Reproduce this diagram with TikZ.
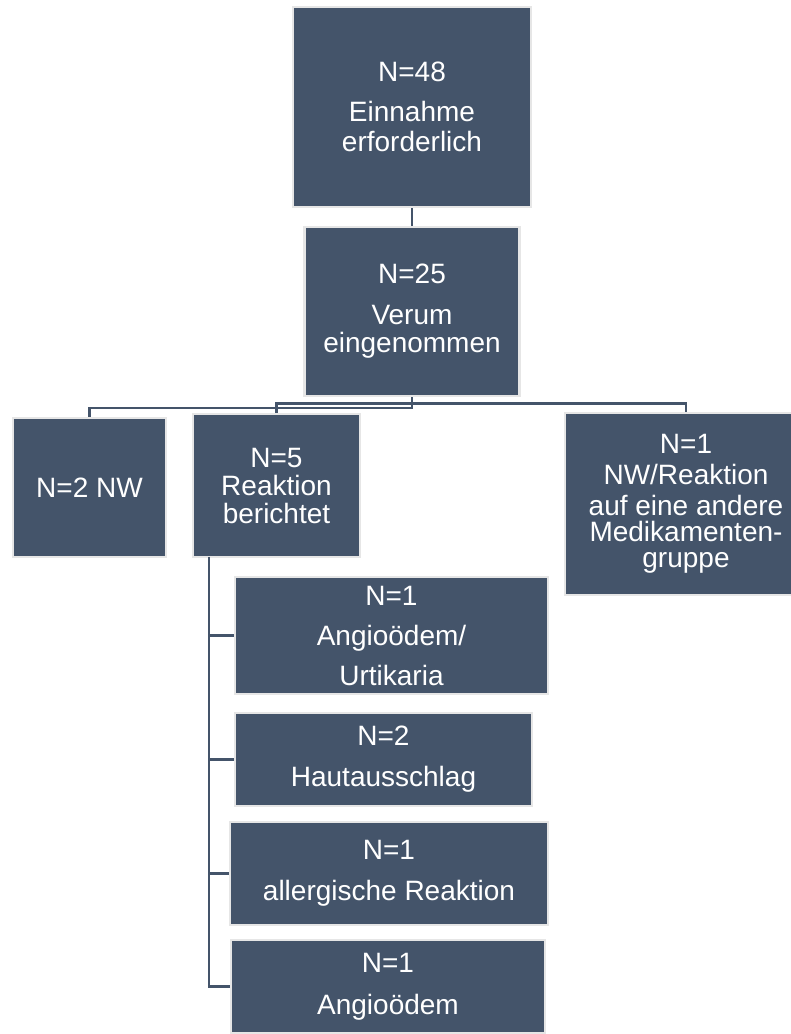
\documentclass[tikz,border=0pt]{standalone}
\usepackage{fontspec}
\setmainfont{Liberation Sans}
\definecolor{boxfill}{HTML}{44546A}
\definecolor{boxline}{HTML}{E6E6E6}
\tikzset{
  box/.style={rectangle, fill=boxfill, draw=boxline, line width=2.2pt,
    text=white, align=center, inner sep=0pt, font=\fontsize{28}{30}\selectfont},
  conn/.style={draw=boxfill, line width=2.6pt},
}
\begin{document}
\begin{tikzpicture}[x=1pt,y=-1pt]
\useasboundingbox (0,0) rectangle (791,1034);
\clip (0,0) rectangle (791,1034);
\fill[white] (0,0) rectangle (791,1034);

\node[box, minimum width=238, minimum height=200] (top) at (412,107)
  {N=48\\[10pt]Einnahme\\erforderlich};
\node[box, minimum width=215, minimum height=169, font=\fontsize{28}{28}\selectfont] (b2) at (412,311.5)
  {N=25\\[13pt]Verum\\eingenommen};
\node[box, minimum width=153, minimum height=139] (left) at (89.5,487.5) {N=2 NW};
\node[box, minimum width=167, minimum height=143, font=\fontsize{28}{28}\selectfont] (mid) at (276.5,485.5)
  {N=5\\Reaktion\\berichtet};
\node[box, minimum width=242, minimum height=182, font=\fontsize{28}{26}\selectfont] (right) at (686,504)
  {N=1\\[5pt]NW/Reaktion\\[5pt]auf eine andere\\Medikamenten-\\gruppe};
\node[box, minimum width=313, minimum height=117, font=\fontsize{28}{40}\selectfont] (sA) at (391.5,635.5)
  {N=1\\Angioödem/\\Urtikaria};
\node[box, minimum width=297, minimum height=93, font=\fontsize{28}{41}\selectfont] (sB) at (383.5,759.5)
  {N=2\\Hautausschlag};
\node[box, minimum width=318, minimum height=103, font=\fontsize{28}{41}\selectfont] (sC) at (389,873.5)
  {N=1\\allergische Reaktion};
\node[box, minimum width=314, minimum height=93, font=\fontsize{28}{42}\selectfont] (sD) at (388,986.5)
  {N=1\\Angioödem};

% connectors
\coordinate (tr) at (209,557);
\draw[conn] (top.south) -- (b2.north);
\draw[conn] (b2.south) -- (412,408) -| (left.north);
\draw[conn] (mid.north) -- ++(0,-9.5) -| (right.north);
\draw[conn] (tr) |- (sD.west);
\draw[conn] (tr |- sA.west) -- (sA.west);
\draw[conn] (tr |- sB.west) -- (sB.west);
\draw[conn] (tr |- sC.west) -- (sC.west);
\end{tikzpicture}
\end{document}
